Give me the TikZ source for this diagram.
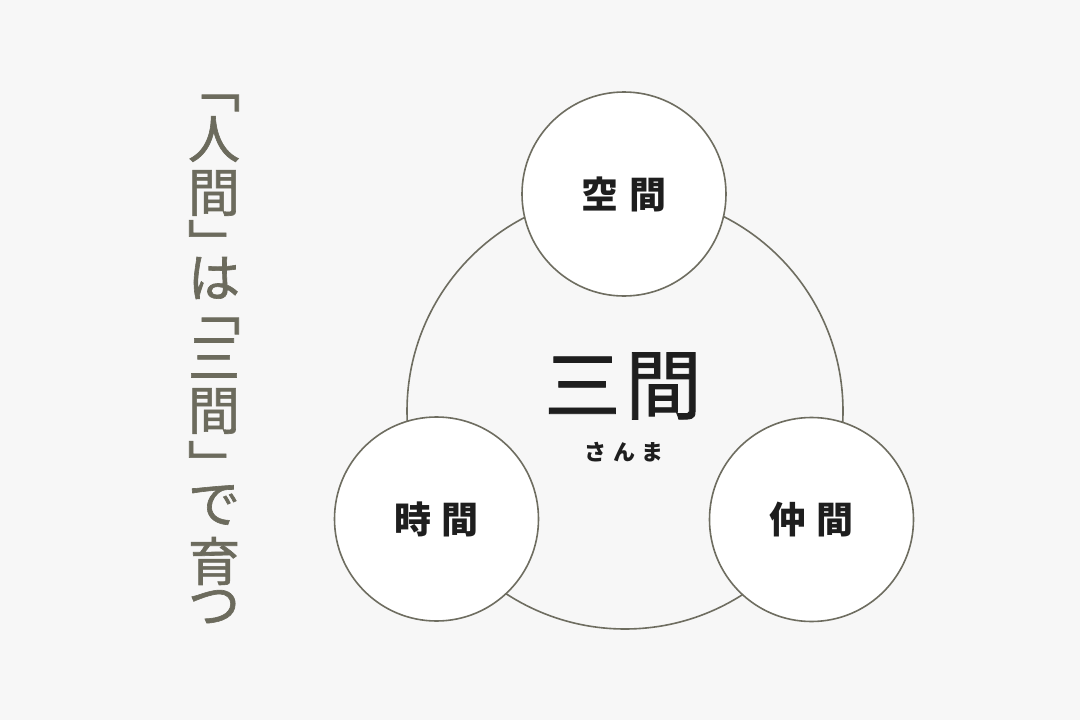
\documentclass[tikz,border=0pt]{standalone}
\usepackage{fontspec}
\newfontfamily\jpfont{Noto Sans CJK JP}
\newfontfamily\jpheavy[FakeBold=1.2]{Noto Sans CJK JP}
\definecolor{bgcol}{HTML}{F7F7F7}
\definecolor{linecol}{HTML}{6E6D60}
\definecolor{olivecol}{HTML}{6C6B5D}
\definecolor{inkcol}{HTML}{1E1E1E}
\tikzset{
  bigring/.style={circle, draw=linecol, line width=1.6pt, minimum size=436pt, inner sep=0pt},
  smallring/.style={circle, draw=linecol, line width=1.6pt, fill=white, minimum size=204pt, inner sep=0pt,
    font=\jpfont\bfseries\fontsize{37}{37}\selectfont, text=inkcol},
  tate/.style={font=\jpheavy\fontsize{52}{52}\selectfont, text=olivecol, inner sep=0pt}
}
\begin{document}
\begin{tikzpicture}[x=1pt,y=1pt,yscale=-1]
  %Background
  \fill[bgcol] (0,0) rectangle (1080,720);
  %Shape: Big Circle
  \node[bigring] (sanma) at (625,411) {};
  %Shape: Small Circles
  \node[smallring] (kukan) at (624,194) {空\hspace{11pt}間};
  \node[smallring] (jikan) at (436.5,519) {時\hspace{11pt}間};
  \node[smallring] (nakama) at (811.5,519.5) {仲\hspace{11pt}間};
  % Text Node
  \node[font=\jpheavy\fontsize{76}{76}\selectfont, text=inkcol, inner sep=0pt] (title) at (623,386) {三\hspace{5pt}間};
  \node[font=\jpfont\bfseries\fontsize{22}{22}\selectfont, text=inkcol, inner sep=0pt] (yomi) at (624,452) {さ\hspace{7pt}ん\hspace{7pt}ま};
  % Vertical Text
  \foreach \g/\y [count=\i] in {﹁/103, 人/139, 間/193, ﹂/242, は/278, ﹁/326, 三/358, 間/411, ﹂/463, で/505, 育/561, つ/607}
    \node[tate] (tate\i) at (214,\y) {\g};
\end{tikzpicture}
\end{document}
